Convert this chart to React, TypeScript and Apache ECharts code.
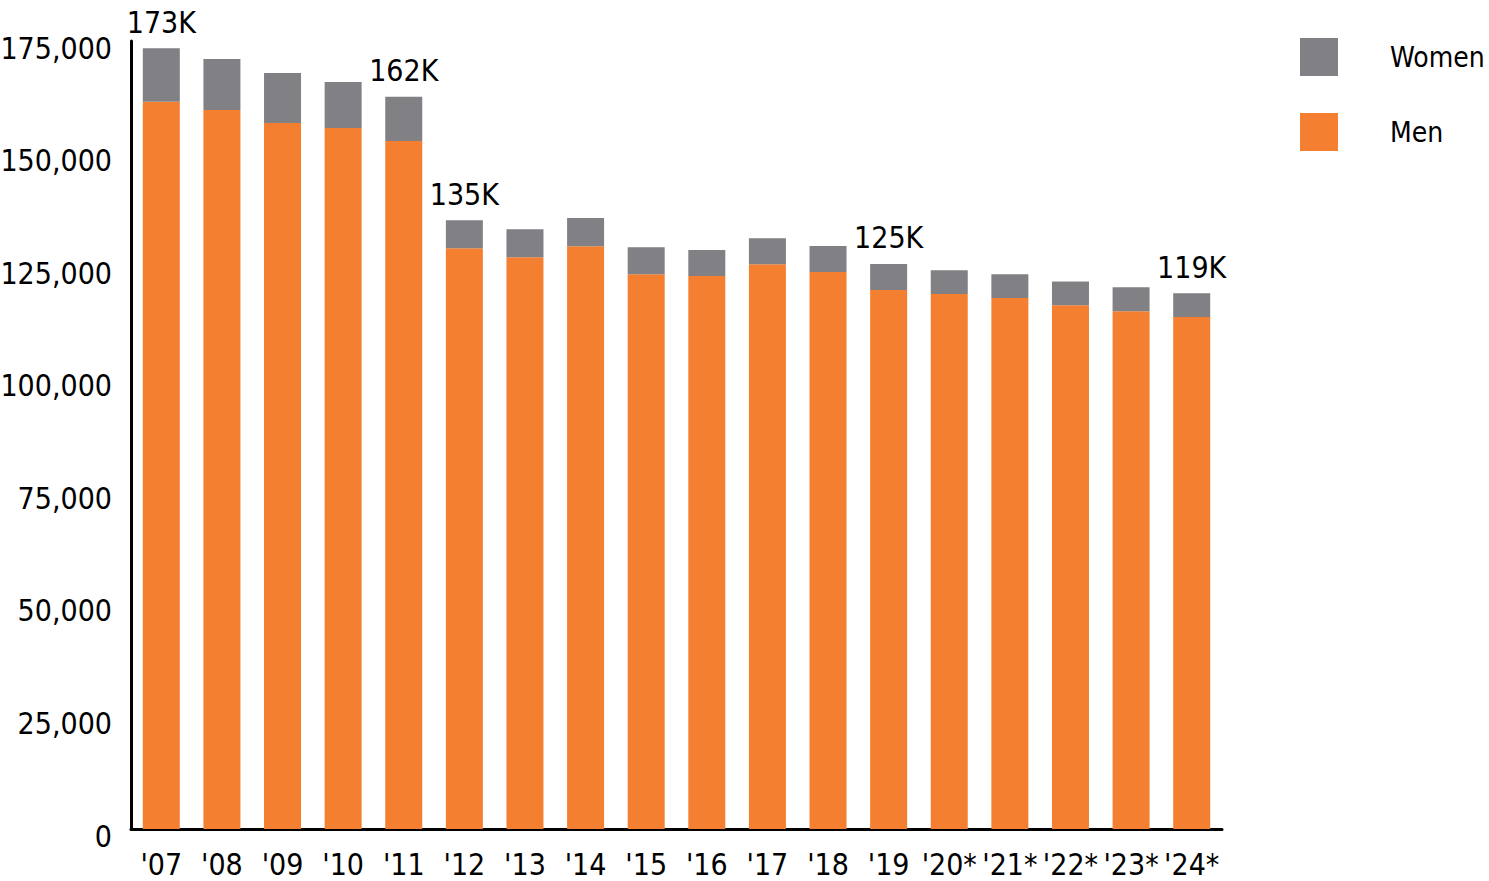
import React, { useEffect, useRef } from "react";
import * as echarts from "echarts";

const categories = ["'07", "'08", "'09", "'10", "'11", "'12", "'13", "'14", "'15", "'16", "'17", "'18", "'19", "'20*", "'21*", "'22*", "'23*", "'24*"];
const men = [161500, 159700, 156800, 155700, 152800, 129000, 127000, 129400, 123200, 122800, 125400, 123700, 119700, 118800, 117900, 116300, 115000, 113700];
const women = [11900, 11300, 11100, 10200, 9800, 6200, 6200, 6300, 6000, 5800, 5800, 5800, 5800, 5300, 5300, 5300, 5300, 5300];
const totalLabels = ["173K", "", "", "", "162K", "135K", "", "", "", "", "", "", "125K", "", "", "", "", "119K"];
const yTicks = [0, 25000, 50000, 75000, 100000, 125000, 150000, 175000];

const FONT = "'DejaVu Sans Condensed', 'Liberation Sans Narrow', 'Roboto', sans-serif";
const ORANGE = "#F47F31";
const GREY = "#818084";

export default function App() {
  const ref = useRef<HTMLDivElement>(null);
  useEffect(() => {
    if (!ref.current) return;
    const chart = echarts.init(ref.current, undefined, { renderer: "svg" });
    chart.setOption({
      animation: false,
      textStyle: { fontFamily: FONT },
      grid: { left: 131, right: 267, top: 41, bottom: 52, containLabel: false, outerBoundsMode: "none" },
      legend: {
        data: ["Women", "Men"],
        orient: "vertical",
        left: 1300,
        top: 38,
        padding: 0,
        itemWidth: 38,
        itemHeight: 38,
        itemGap: 37,
        icon: "rect",
        textStyle: { fontFamily: FONT, fontSize: 28, color: "#000", padding: [0, 0, 0, 47] },
      },
      xAxis: {
        type: "category",
        data: categories,
        axisLine: { lineStyle: { color: "#000", width: 3 } },
        axisTick: { show: false },
        axisLabel: { color: "#000", fontSize: 30, fontFamily: FONT, margin: 20, interval: 0 },
      },
      yAxis: {
        type: "value",
        min: yTicks[0],
        max: yTicks[yTicks.length - 1],
        interval: yTicks[1] - yTicks[0],
        axisLine: { show: true, lineStyle: { color: "#000", width: 3 } },
        axisTick: { show: false },
        splitLine: { show: false },
        axisLabel: {
          color: "#000",
          fontSize: 30,
          fontFamily: FONT,
          margin: 19,
          verticalAlign: "top",
          lineHeight: 14,
          formatter: (v: number) => v.toLocaleString("en-US"),
        },
      },
      series: [
        {
          name: "Men",
          type: "bar",
          stack: "total",
          barWidth: 37,
          itemStyle: { color: ORANGE },
          data: men,
        },
        {
          name: "Women",
          type: "bar",
          stack: "total",
          barWidth: 37,
          itemStyle: { color: GREY },
          data: women,
          label: {
            show: true,
            position: "top",
            distance: 11,
            color: "#000",
            fontSize: 30,
            fontFamily: FONT,
            formatter: (p: any) => totalLabels[p.dataIndex],
          },
        },
      ],
    });
    return () => chart.dispose();
  }, []);
  return <div ref={ref} style={{ position: "absolute", left: 0, top: 0, width: 1489, height: 881 }} />;
}
